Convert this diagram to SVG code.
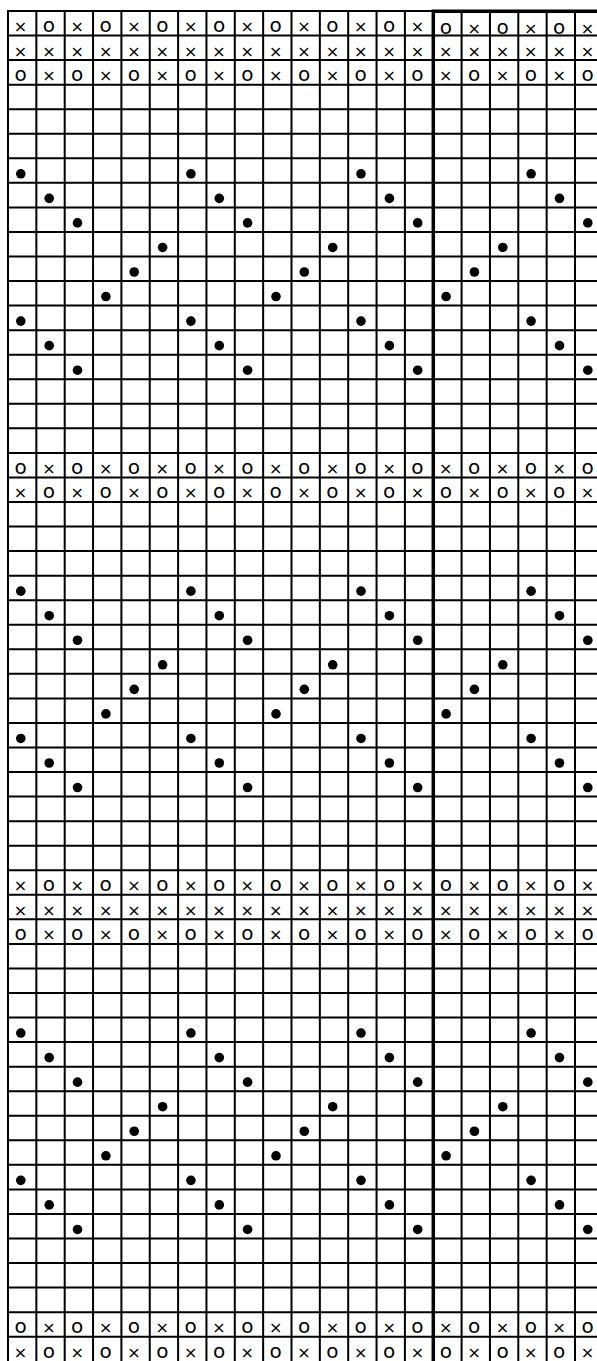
<svg xmlns="http://www.w3.org/2000/svg" xmlns:xlink="http://www.w3.org/1999/xlink" width="597" height="1361" viewBox="0 0 597 1361">
<style>
.grid{fill:none;stroke:#000;stroke-width:2}
.thick{fill:none;stroke:#000;stroke-width:3.5}
text{font-family:"DejaVu Sans","Liberation Sans",sans-serif;fill:#000;text-anchor:middle}
.x{font-size:16px}
.o{font-size:20px}
.dot{fill:#000}
</style>
<defs>
<g id="dotblock">
<circle class="dot" cx="20.8" cy="15.5" r="4.8"/><circle class="dot" cx="190.9" cy="15.5" r="4.8"/><circle class="dot" cx="361" cy="15.5" r="4.8"/><circle class="dot" cx="531.1" cy="15.5" r="4.8"/>
<circle class="dot" cx="49.2" cy="40.05" r="4.8"/><circle class="dot" cx="219.3" cy="40.05" r="4.8"/><circle class="dot" cx="389.4" cy="40.05" r="4.8"/><circle class="dot" cx="559.5" cy="40.05" r="4.8"/>
<circle class="dot" cx="77.5" cy="64.6" r="4.8"/><circle class="dot" cx="247.6" cy="64.6" r="4.8"/><circle class="dot" cx="417.7" cy="64.6" r="4.8"/><circle class="dot" cx="587.8" cy="64.6" r="4.8"/>
<circle class="dot" cx="162.6" cy="89.15" r="4.8"/><circle class="dot" cx="332.7" cy="89.15" r="4.8"/><circle class="dot" cx="502.8" cy="89.15" r="4.8"/>
<circle class="dot" cx="134.2" cy="113.7" r="4.8"/><circle class="dot" cx="304.3" cy="113.7" r="4.8"/><circle class="dot" cx="474.4" cy="113.7" r="4.8"/>
<circle class="dot" cx="105.9" cy="138.25" r="4.8"/><circle class="dot" cx="276" cy="138.25" r="4.8"/><circle class="dot" cx="446.1" cy="138.25" r="4.8"/>
<circle class="dot" cx="20.8" cy="162.8" r="4.8"/><circle class="dot" cx="190.9" cy="162.8" r="4.8"/><circle class="dot" cx="361" cy="162.8" r="4.8"/><circle class="dot" cx="531.1" cy="162.8" r="4.8"/>
<circle class="dot" cx="49.2" cy="187.35" r="4.8"/><circle class="dot" cx="219.3" cy="187.35" r="4.8"/><circle class="dot" cx="389.4" cy="187.35" r="4.8"/><circle class="dot" cx="559.5" cy="187.35" r="4.8"/>
<circle class="dot" cx="77.5" cy="211.9" r="4.8"/><circle class="dot" cx="247.6" cy="211.9" r="4.8"/><circle class="dot" cx="417.7" cy="211.9" r="4.8"/><circle class="dot" cx="587.8" cy="211.9" r="4.8"/>
</g>
</defs>
<rect x="0" y="0" width="597" height="1361" fill="#fff"/>
<g id="grid">
<path class="grid" d="M7 11H433 M7 35.55H597 M7 60.1H597 M7 84.65H597 M7 109.2H597 M7 133.75H597 M7 158.3H597 M7 182.85H597 M7 207.4H597 M7 231.95H597 M7 256.5H597 M7 281.05H597 M7 305.6H597 M7 330.15H597 M7 354.7H597 M7 379.25H597 M7 403.8H597 M7 428.35H597 M7 452.9H597 M7 477.45H597 M7 502H597 M7 526.55H597 M7 551.1H597 M7 575.65H597 M7 600.2H597 M7 624.75H597 M7 649.3H597 M7 673.85H597 M7 698.4H597 M7 722.95H597 M7 747.5H597 M7 772.05H597 M7 796.6H597 M7 821.15H597 M7 845.7H597 M7 870.25H597 M7 894.8H597 M7 919.35H597 M7 943.9H597 M7 968.45H597 M7 993H597 M7 1017.55H597 M7 1042.1H597 M7 1066.65H597 M7 1091.2H597 M7 1115.75H597 M7 1140.3H597 M7 1164.85H597 M7 1189.4H597 M7 1213.95H597 M7 1238.5H597 M7 1263.05H597 M7 1287.6H597 M7 1312.15H597 M7 1336.7H597"/>
<path class="grid" d="M8 10V1361 M36.35 10V1361 M64.7 10V1361 M93.05 10V1361 M121.4 10V1361 M149.75 10V1361 M178.1 10V1361 M206.45 10V1361 M234.8 10V1361 M263.15 10V1361 M291.5 10V1361 M319.85 10V1361 M348.2 10V1361 M376.55 10V1361 M404.9 10V1361 M461.6 10V1361 M489.95 10V1361 M518.3 10V1361 M546.65 10V1361 M575 10V1361"/>
<path class="thick" d="M433.3 9.5V1361 M431.6 11.3H597"/>
</g>
<g id="symbols">
<text y="32"><tspan class="x" x="20.5">×</tspan><tspan class="o" x="48.9">o</tspan><tspan class="x" x="77.2">×</tspan><tspan class="o" x="105.6">o</tspan><tspan class="x" x="133.9">×</tspan><tspan class="o" x="162.3">o</tspan><tspan class="x" x="190.6">×</tspan><tspan class="o" x="219">o</tspan><tspan class="x" x="247.3">×</tspan><tspan class="o" x="275.7">o</tspan><tspan class="x" x="304">×</tspan><tspan class="o" x="332.4">o</tspan><tspan class="x" x="360.7">×</tspan><tspan class="o" x="389.1">o</tspan><tspan class="x" x="417.4">×</tspan></text>
<text y="34"><tspan class="o" x="445.8">o</tspan><tspan class="x" x="474.1">×</tspan><tspan class="o" x="502.5">o</tspan><tspan class="x" x="530.8">×</tspan><tspan class="o" x="559.2">o</tspan><tspan class="x" x="587.5">×</tspan></text>
<text y="56.55"><tspan class="x" x="20.5">×</tspan><tspan class="x" x="48.9">×</tspan><tspan class="x" x="77.2">×</tspan><tspan class="x" x="105.6">×</tspan><tspan class="x" x="133.9">×</tspan><tspan class="x" x="162.3">×</tspan><tspan class="x" x="190.6">×</tspan><tspan class="x" x="219">×</tspan><tspan class="x" x="247.3">×</tspan><tspan class="x" x="275.7">×</tspan><tspan class="x" x="304">×</tspan><tspan class="x" x="332.4">×</tspan><tspan class="x" x="360.7">×</tspan><tspan class="x" x="389.1">×</tspan><tspan class="x" x="417.4">×</tspan><tspan class="x" x="445.8">×</tspan><tspan class="x" x="474.1">×</tspan><tspan class="x" x="502.5">×</tspan><tspan class="x" x="530.8">×</tspan><tspan class="x" x="559.2">×</tspan><tspan class="x" x="587.5">×</tspan></text>
<text y="81.1"><tspan class="o" x="20.5">o</tspan><tspan class="x" x="48.9">×</tspan><tspan class="o" x="77.2">o</tspan><tspan class="x" x="105.6">×</tspan><tspan class="o" x="133.9">o</tspan><tspan class="x" x="162.3">×</tspan><tspan class="o" x="190.6">o</tspan><tspan class="x" x="219">×</tspan><tspan class="o" x="247.3">o</tspan><tspan class="x" x="275.7">×</tspan><tspan class="o" x="304">o</tspan><tspan class="x" x="332.4">×</tspan><tspan class="o" x="360.7">o</tspan><tspan class="x" x="389.1">×</tspan><tspan class="o" x="417.4">o</tspan><tspan class="x" x="445.8">×</tspan><tspan class="o" x="474.1">o</tspan><tspan class="x" x="502.5">×</tspan><tspan class="o" x="530.8">o</tspan><tspan class="x" x="559.2">×</tspan><tspan class="o" x="587.5">o</tspan></text>
<text y="473.9"><tspan class="o" x="20.5">o</tspan><tspan class="x" x="48.9">×</tspan><tspan class="o" x="77.2">o</tspan><tspan class="x" x="105.6">×</tspan><tspan class="o" x="133.9">o</tspan><tspan class="x" x="162.3">×</tspan><tspan class="o" x="190.6">o</tspan><tspan class="x" x="219">×</tspan><tspan class="o" x="247.3">o</tspan><tspan class="x" x="275.7">×</tspan><tspan class="o" x="304">o</tspan><tspan class="x" x="332.4">×</tspan><tspan class="o" x="360.7">o</tspan><tspan class="x" x="389.1">×</tspan><tspan class="o" x="417.4">o</tspan><tspan class="x" x="445.8">×</tspan><tspan class="o" x="474.1">o</tspan><tspan class="x" x="502.5">×</tspan><tspan class="o" x="530.8">o</tspan><tspan class="x" x="559.2">×</tspan><tspan class="o" x="587.5">o</tspan></text>
<text y="498.45"><tspan class="x" x="20.5">×</tspan><tspan class="o" x="48.9">o</tspan><tspan class="x" x="77.2">×</tspan><tspan class="o" x="105.6">o</tspan><tspan class="x" x="133.9">×</tspan><tspan class="o" x="162.3">o</tspan><tspan class="x" x="190.6">×</tspan><tspan class="o" x="219">o</tspan><tspan class="x" x="247.3">×</tspan><tspan class="o" x="275.7">o</tspan><tspan class="x" x="304">×</tspan><tspan class="o" x="332.4">o</tspan><tspan class="x" x="360.7">×</tspan><tspan class="o" x="389.1">o</tspan><tspan class="x" x="417.4">×</tspan><tspan class="o" x="445.8">o</tspan><tspan class="x" x="474.1">×</tspan><tspan class="o" x="502.5">o</tspan><tspan class="x" x="530.8">×</tspan><tspan class="o" x="559.2">o</tspan><tspan class="x" x="587.5">×</tspan></text>
<text y="891.25"><tspan class="x" x="20.5">×</tspan><tspan class="o" x="48.9">o</tspan><tspan class="x" x="77.2">×</tspan><tspan class="o" x="105.6">o</tspan><tspan class="x" x="133.9">×</tspan><tspan class="o" x="162.3">o</tspan><tspan class="x" x="190.6">×</tspan><tspan class="o" x="219">o</tspan><tspan class="x" x="247.3">×</tspan><tspan class="o" x="275.7">o</tspan><tspan class="x" x="304">×</tspan><tspan class="o" x="332.4">o</tspan><tspan class="x" x="360.7">×</tspan><tspan class="o" x="389.1">o</tspan><tspan class="x" x="417.4">×</tspan><tspan class="o" x="445.8">o</tspan><tspan class="x" x="474.1">×</tspan><tspan class="o" x="502.5">o</tspan><tspan class="x" x="530.8">×</tspan><tspan class="o" x="559.2">o</tspan><tspan class="x" x="587.5">×</tspan></text>
<text y="915.8"><tspan class="x" x="20.5">×</tspan><tspan class="x" x="48.9">×</tspan><tspan class="x" x="77.2">×</tspan><tspan class="x" x="105.6">×</tspan><tspan class="x" x="133.9">×</tspan><tspan class="x" x="162.3">×</tspan><tspan class="x" x="190.6">×</tspan><tspan class="x" x="219">×</tspan><tspan class="x" x="247.3">×</tspan><tspan class="x" x="275.7">×</tspan><tspan class="x" x="304">×</tspan><tspan class="x" x="332.4">×</tspan><tspan class="x" x="360.7">×</tspan><tspan class="x" x="389.1">×</tspan><tspan class="x" x="417.4">×</tspan><tspan class="x" x="445.8">×</tspan><tspan class="x" x="474.1">×</tspan><tspan class="x" x="502.5">×</tspan><tspan class="x" x="530.8">×</tspan><tspan class="x" x="559.2">×</tspan><tspan class="x" x="587.5">×</tspan></text>
<text y="940.35"><tspan class="o" x="20.5">o</tspan><tspan class="x" x="48.9">×</tspan><tspan class="o" x="77.2">o</tspan><tspan class="x" x="105.6">×</tspan><tspan class="o" x="133.9">o</tspan><tspan class="x" x="162.3">×</tspan><tspan class="o" x="190.6">o</tspan><tspan class="x" x="219">×</tspan><tspan class="o" x="247.3">o</tspan><tspan class="x" x="275.7">×</tspan><tspan class="o" x="304">o</tspan><tspan class="x" x="332.4">×</tspan><tspan class="o" x="360.7">o</tspan><tspan class="x" x="389.1">×</tspan><tspan class="o" x="417.4">o</tspan><tspan class="x" x="445.8">×</tspan><tspan class="o" x="474.1">o</tspan><tspan class="x" x="502.5">×</tspan><tspan class="o" x="530.8">o</tspan><tspan class="x" x="559.2">×</tspan><tspan class="o" x="587.5">o</tspan></text>
<text y="1333.15"><tspan class="o" x="20.5">o</tspan><tspan class="x" x="48.9">×</tspan><tspan class="o" x="77.2">o</tspan><tspan class="x" x="105.6">×</tspan><tspan class="o" x="133.9">o</tspan><tspan class="x" x="162.3">×</tspan><tspan class="o" x="190.6">o</tspan><tspan class="x" x="219">×</tspan><tspan class="o" x="247.3">o</tspan><tspan class="x" x="275.7">×</tspan><tspan class="o" x="304">o</tspan><tspan class="x" x="332.4">×</tspan><tspan class="o" x="360.7">o</tspan><tspan class="x" x="389.1">×</tspan><tspan class="o" x="417.4">o</tspan><tspan class="x" x="445.8">×</tspan><tspan class="o" x="474.1">o</tspan><tspan class="x" x="502.5">×</tspan><tspan class="o" x="530.8">o</tspan><tspan class="x" x="559.2">×</tspan><tspan class="o" x="587.5">o</tspan></text>
<text y="1357.7"><tspan class="x" x="20.5">×</tspan><tspan class="o" x="48.9">o</tspan><tspan class="x" x="77.2">×</tspan><tspan class="o" x="105.6">o</tspan><tspan class="x" x="133.9">×</tspan><tspan class="o" x="162.3">o</tspan><tspan class="x" x="190.6">×</tspan><tspan class="o" x="219">o</tspan><tspan class="x" x="247.3">×</tspan><tspan class="o" x="275.7">o</tspan><tspan class="x" x="304">×</tspan><tspan class="o" x="332.4">o</tspan><tspan class="x" x="360.7">×</tspan><tspan class="o" x="389.1">o</tspan><tspan class="x" x="417.4">×</tspan><tspan class="o" x="445.8">o</tspan><tspan class="x" x="474.1">×</tspan><tspan class="o" x="502.5">o</tspan><tspan class="x" x="530.8">×</tspan><tspan class="o" x="559.2">o</tspan><tspan class="x" x="587.5">×</tspan></text>
</g>
<g id="dots">
<use xlink:href="#dotblock" href="#dotblock" transform="translate(0,158.3)"/>
<use xlink:href="#dotblock" href="#dotblock" transform="translate(0,575.65)"/>
<use xlink:href="#dotblock" href="#dotblock" transform="translate(0,1017.55)"/>
</g>
</svg>
